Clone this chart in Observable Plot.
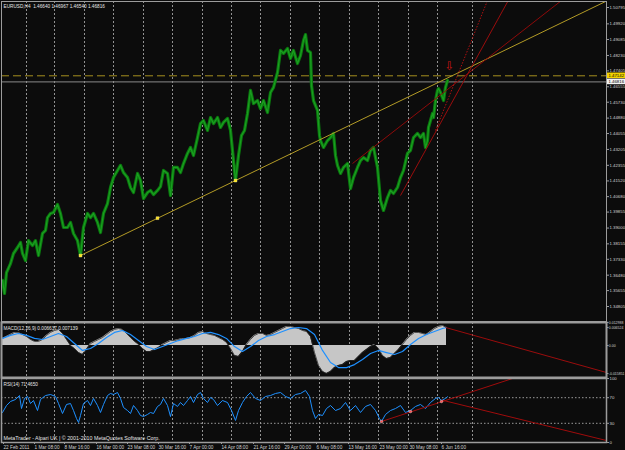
<!DOCTYPE html>
<html><head><meta charset="utf-8">
<script src="https://cdn.jsdelivr.net/npm/d3@7"></script>
<script src="https://cdn.jsdelivr.net/npm/@observablehq/plot@0.6"></script>
<style>
html,body{margin:0;padding:0;background:#0c0c0c;}
#wrap{position:relative;width:625px;height:450px;overflow:hidden;background:#0c0c0c;}
#wrap svg{position:absolute;left:0;overflow:visible;}
</style></head><body><div id="wrap"></div>
<script>
// ---------- DATA ----------
const headerText = "EURUSD,H4  1.46640 1.46967 1.46540 1.46816";
const macdText = "MACD(12,26,9) 0.006637 0.007139";
const rsiText = "RSI(14) 71.4650";
const footerText = "MetaTrader - Alpari UK | © 2001-2010 MetaQuotes Software Corp.";

// H4 bar index (0 = 22 Feb 2011 00:00) and close price
const priceBar = [0,2,4,8,11,15,18,20,23,26,
 30,33,36,40,43,45,48,51,55,58,
 61,65,68,71,75,78,81,85,88,91,
 95,98,101,105,108,111,115,118,121,125,
 128,131,135,138,141,145,148,151,155,158,
 161,165,168,171,175,178,181,185,188,191,
 195,198,201,205,208,211,215,218,221,225,
 228,231,233,236,239,242,245,248,251,255,
 258,261,265,268,271,275,278,281,285,288,
 291,295,298,301,303,305,308,309,311,315,
 317,318,321,325,328,331,333,335,338,341,
 345,348,351,355,358,361,365,368,371,375,
 378,381,385,388,391,395,398,401,405,408,
 411,415,418,421,423,425,426,428,430,431,
 433,435,436,438,440,441,443,445];
const priceClose = [1.3620,1.3550,1.3662,1.3710,1.3764,1.3796,1.3823,1.3764,1.3726,1.3833,
 1.3807,1.3833,1.3753,1.3871,1.3887,1.3956,1.3978,1.3983,1.4026,1.3978,
 1.3903,1.3903,1.3930,1.3871,1.3833,1.3753,1.3903,1.3978,1.3956,1.3978,
 1.3930,1.3876,1.3978,1.4031,1.4117,1.4170,1.4208,1.4235,1.4197,1.4170,
 1.4117,1.4090,1.4192,1.4154,1.4058,1.4090,1.4101,1.4079,1.4101,1.4122,
 1.4208,1.4192,1.4074,1.4224,1.4224,1.4197,1.4245,1.4299,1.4331,1.4288,
 1.4384,1.4459,1.4475,1.4422,1.4491,1.4459,1.4491,1.4438,1.4465,1.4486,
 1.4422,1.4261,1.4154,1.4288,1.4395,1.4422,1.4513,1.4636,1.4566,1.4582,
 1.4539,1.4582,1.4518,1.4625,1.4652,1.4732,1.4850,1.4834,1.4860,1.4807,
 1.4850,1.4780,1.4823,1.4903,1.4935,1.4850,1.4839,1.4662,1.4582,1.4529,
 1.4395,1.4368,1.4331,1.4368,1.4384,1.4406,1.4288,1.4235,1.4192,1.4224,
 1.4245,1.4111,1.4170,1.4224,1.4261,1.4277,1.4261,1.4315,1.4331,1.4224,
 1.4047,1.3994,1.4063,1.4101,1.4085,1.4117,1.4170,1.4208,1.4299,1.4315,
 1.4384,1.4406,1.4384,1.4406,1.4331,1.4368,1.4438,1.4475,1.4513,1.4491,
 1.4582,1.4636,1.4646,1.4625,1.4598,1.4582,1.4652,1.4689];

const priceTicks = [1.50795,1.49920,1.49085,1.48230,1.47405,1.46555,1.45730,1.44880,1.44055,1.43205,
 1.42355,1.41520,1.40680,1.39855,1.39000,1.38155,1.37330,1.36480,1.35655,1.34805];
const priceDomain = [1.34805, 1.50795];
const levelPrice = 1.47142;   // dashed yellow level
const bidPrice = 1.46816;     // bid line
const tagPrices = [1.47142, 1.46816];
const tagLabels = ["1.47142", "1.46816"];
const tagColors = ["#f2d200", "#f2f2f2"];

// trend lines: start bar/price, end bar/price
const trendName = ["support", "r1", "r2", "r3"];
const trendBar1 = [78, 350, 398, 433];
const trendP1 = [1.3753, 1.4245, 1.4074, 1.4422];
const trendBar2 = [604, 560, 506, 485];
const trendP2 = [1.5114, 1.5121, 1.5119, 1.5117];
const trendColor = ["#b39b26", "#8e0a0a", "#9a0c0c", "#b01010"];
const trendDash = ["none", "none", "none", "1.5,1.5"];
const anchorBar = [78, 155, 233];
const anchorPrice = [1.3753, 1.3953, 1.4154];
const arrowBar = [447];
const arrowPrice = [1.4764];

// vertical grid (bar index) and time labels
const gridBars = [24,52,82,111,141,170,200,229,258,288,317,347,376,406,435,470];
const timeBars = [0,31,61,93,124,155,186,218,250,281,313,345,376,406,438];
const timeLabels = ["22 Feb 2011","1 Mar 08:00","8 Mar 16:00","16 Mar 00:00","23 Mar 08:00","30 Mar 16:00",
 "7 Apr 00:00","14 Apr 08:00","21 Apr 16:00","29 Apr 00:00","6 May 08:00","13 May 16:00",
 "23 May 00:00","30 May 08:00","6 Jun 16:00"];

// MACD histogram
const histBar = [0,4,8,12,16,20,24,28,32,36,40,44,48,52,56,60,64,68,72,76,
 80,84,88,92,96,100,104,108,112,116,120,124,128,132,136,140,144,148,152,156,
 160,164,168,172,176,180,184,188,192,196,200,204,208,212,216,220,224,228,232,236,
 240,244,248,252,256,260,264,268,272,276,280,284,288,292,296,300,304,308,312,316,
 320,324,328,332,336,340,344,348,352,356,360,364,368,372,376,380,384,388,392,396,
 400,404,408,412,416,420,424,428,432,436,440,444];
const histValue = [0.0040,0.0051,0.0062,0.0074,0.0074,0.0062,0.0051,0.0034,0.0023,0.0023,
 0.0034,0.0057,0.0074,0.0085,0.0091,0.0068,0.0034,0.0000,-0.0017,-0.0040,
 -0.0051,-0.0023,0.0011,0.0023,0.0034,0.0045,0.0062,0.0079,0.0091,0.0096,
 0.0091,0.0068,0.0045,0.0023,0.0006,-0.0017,-0.0034,-0.0034,-0.0023,-0.0011,
 0.0006,0.0017,0.0028,0.0028,0.0034,0.0040,0.0040,0.0045,0.0057,0.0074,
 0.0079,0.0068,0.0062,0.0057,0.0045,0.0034,0.0017,-0.0017,-0.0057,-0.0062,
 -0.0034,0.0006,0.0034,0.0057,0.0068,0.0068,0.0057,0.0062,0.0074,0.0085,
 0.0096,0.0108,0.0108,0.0102,0.0096,0.0085,0.0079,0.0051,-0.0040,-0.0113,
 -0.0147,-0.0158,-0.0147,-0.0125,-0.0113,-0.0108,-0.0091,-0.0085,-0.0085,-0.0062,
 -0.0040,-0.0023,-0.0006,0.0006,-0.0017,-0.0057,-0.0074,-0.0068,-0.0045,-0.0023,
 0.0006,0.0034,0.0057,0.0074,0.0074,0.0068,0.0062,0.0079,0.0096,0.0108,
 0.0113,0.0102];
// MACD signal
const sigBar = [0,8,16,24,32,40,48,56,64,72,80,88,96,104,112,120,128,136,144,152,
 160,168,176,184,192,200,208,216,224,232,240,248,256,264,272,280,288,296,304,312,
 320,328,336,344,352,360,368,376,384,392,400,408,416,424,432,440,444];
const sigValue = [0.0040,0.0057,0.0068,0.0057,0.0040,0.0034,0.0051,0.0068,0.0051,0.0011,
 -0.0028,-0.0017,0.0011,0.0045,0.0074,0.0085,0.0062,0.0028,-0.0006,-0.0023,
 -0.0006,0.0011,0.0028,0.0040,0.0051,0.0068,0.0074,0.0062,0.0040,-0.0006,
 -0.0034,-0.0006,0.0028,0.0051,0.0062,0.0079,0.0096,0.0102,0.0096,0.0062,
 -0.0028,-0.0096,-0.0125,-0.0125,-0.0108,-0.0079,-0.0045,-0.0028,-0.0040,-0.0051,
 -0.0034,0.0006,0.0040,0.0062,0.0079,0.0096,0.0102];
const macdDomain = [-0.01585, 0.01302];
const macdTicks = [0.01302, 0.01020, 0, -0.01585];
const macdTickLabels = ["0.012988", "0.006524", "0.00", "-0.015851"];
const macdLineBar = [443, 604];
const macdLineValue = [0.0102, -0.0153];

// RSI
const rsiBar = [0,4,8,13,17,19,22,25,28,31,35,38,43,48,53,56,60,64,68,71,74,76,78,81,85,88,91,95,98,101,
 105,108,111,115,118,121,125,128,131,135,138,141,145,148,151,155,158,161,165,168,171,175,178,181,185,188,191,195,198,201,
 205,208,211,215,220,225,229,233,236,240,244,248,253,258,263,268,273,278,283,288,293,298,303,307,310,313,316,320,324,328,
 333,338,343,348,353,358,363,368,373,377,379,383,388,393,398,403,408,413,418,423,428,433,436,439,443,445];
const rsiValue = [46.9,57.8,64.1,67.2,73.4,53.1,68.8,71.9,60.9,65.6,50.0,67.2,73.4,75.0,71.9,60.9,45.3,59.4,60.9,50.0,37.5,31.3,42.2,60.9,65.6,57.8,68.8,57.8,46.9,59.4,
 73.4,76.6,75.0,78.1,68.8,54.7,50.0,45.3,57.8,50.0,42.2,40.6,43.8,46.9,45.3,56.3,59.4,68.8,57.8,40.6,60.9,56.3,62.5,57.8,65.6,71.9,62.5,75.0,78.1,68.8,
 62.5,70.3,67.2,57.8,65.6,62.5,50.0,34.4,50.0,62.5,71.9,78.1,68.8,65.6,71.9,73.4,76.6,78.1,71.9,68.8,75.0,76.6,81.3,71.9,50.0,37.5,43.8,42.2,53.1,57.8,
 50.0,53.1,62.5,50.0,57.8,46.9,56.3,59.4,50.0,37.5,32.8,43.8,50.0,53.1,57.8,46.9,50.0,56.3,59.4,53.1,62.5,68.8,70.3,65.6,68.8,71.5];
const rsiLevels = [70, 30];
const rsiTicks = [100, 70, 30, 0];
const rsiPointBar = [379, 408, 439];
const rsiPointValue = [32.8, 48.4, 64.1];
const rsiLineBar1 = [379, 439];
const rsiLineV1 = [32.8, 66.4];
const rsiLineBar2 = [510, 604];
const rsiLineV2 = [100, 3.1];

// ---------- BUILD ----------
const xDomain = [-1, 604];
const FONT = "Liberation Sans, Arial, sans-serif";
const FS = 4.7;      // general small MT4 text
const FSA = 4.3;     // right-hand axis labels
const FSM = 3.5;     // long MACD axis labels
const style = {background: "transparent", color: "#d6d6d6", fontFamily: FONT, fontSize: FS + "px", overflow: "visible"};
const gridColor = "#b4b4b4";
const frameColor = "#9c9c9c";

const priceData = priceBar.map((b, i) => ({bar: b, close: priceClose[i]})).filter(d => d.close != null);
const trendData = trendName.map((n, i) => ({n, x1: trendBar1[i], y1: trendP1[i], x2: trendBar2[i], y2: trendP2[i], c: trendColor[i], dash: trendDash[i]}));
const anchors = anchorBar.map((b, i) => ({bar: b, p: anchorPrice[i]}));
const tags = tagPrices.map((p, i) => ({p, label: tagLabels[i], c: tagColors[i]}));

const main = Plot.plot({
  width: 625, height: 321, marginLeft: 1, marginRight: 19, marginTop: 1, marginBottom: 0,
  x: {domain: xDomain, axis: null},
  y: {domain: priceDomain, range: [306, 7]},
  style,
  marks: [
    Plot.ruleX(gridBars, {stroke: gridColor, strokeDasharray: "2,2", strokeOpacity: 0.8}),
    Plot.ruleY([bidPrice], {stroke: "#8a8a8a", strokeWidth: 1}),
    Plot.ruleY([levelPrice], {stroke: "#a68f1e", strokeDasharray: "8,4", strokeWidth: 1}),
    Plot.line(priceData, {x: "bar", y: "close", stroke: "#0a7a0e", strokeWidth: 3.2}),
    Plot.line(priceData, {x: "bar", y: "close", stroke: "#1b9e21", strokeWidth: 1.2}),
    ...trendData.map(t => Plot.link([t], {x1: "x1", y1: "y1", x2: "x2", y2: "y2", stroke: t.c, strokeWidth: 1, strokeDasharray: t.dash, clip: true})),
    Plot.dot(anchors, {x: "bar", y: "p", symbol: "square", r: 1.6, fill: "#ffe21a", stroke: "#fff6a0", strokeWidth: 0.4}),
    Plot.text(arrowBar.map((b, i) => ({bar: b, p: arrowPrice[i]})), {x: "bar", y: "p", text: () => "⇩", fill: "#c21414", fontSize: 12, fontFamily: "DejaVu Sans"}),
    Plot.axisY(priceTicks, {anchor: "right", tickSize: 2, tickPadding: 1, tickFormat: d => d.toFixed(5), fontSize: FSA, stroke: "#9c9c9c", fill: "#d2d2d2"}),
    Plot.rect(tags, {x1: () => xDomain[1], x2: () => xDomain[1] + 19, y1: "p", y2: "p", insetTop: -2.8, insetBottom: -2.8, fill: "c"}),
    Plot.text(tags, {x: () => xDomain[1], y: "p", text: "label", dx: 2, textAnchor: "start", fill: "#000", fontSize: FSA}),
    Plot.frame({stroke: frameColor, strokeWidth: 1}),
    Plot.text([headerText], {frameAnchor: "top-left", dx: 2, dy: 3, textAnchor: "start", fill: "#e6e6e6", fontSize: FS})
  ]
});

const hist = histBar.map((b, i) => ({bar: b, v: histValue[i]})).filter(d => d.v != null);
const sig = sigBar.map((b, i) => ({bar: b, v: sigValue[i]}));
const macdLine = [{x1: macdLineBar[0], y1: macdLineValue[0], x2: macdLineBar[1], y2: macdLineValue[1]}];
const macdPlot = Plot.plot({
  width: 625, height: 56, marginLeft: 1, marginRight: 19, marginTop: 1, marginBottom: 0,
  x: {domain: xDomain, axis: null},
  y: {domain: macdDomain, range: [52, 1]},
  style,
  marks: [
    Plot.ruleX(gridBars, {stroke: gridColor, strokeDasharray: "2,2", strokeOpacity: 0.8}),
    Plot.areaY(hist, {x: "bar", y: "v", fill: "#c6c6c6"}),
    Plot.line(hist, {x: "bar", y: "v", stroke: "#2a2a2a", strokeWidth: 0.8}),
    Plot.line(sig, {x: "bar", y: "v", stroke: "#1e90ff", strokeWidth: 1.2}),
    Plot.link(macdLine, {x1: "x1", y1: "y1", x2: "x2", y2: "y2", stroke: "#9a0c0c", strokeWidth: 1, clip: true}),
    Plot.axisY(macdTicks, {anchor: "right", tickSize: 1.5, tickPadding: 0.8, tickFormat: d => macdTickLabels[macdTicks.indexOf(d)], fontSize: FSM, stroke: "#9c9c9c", fill: "#d2d2d2"}),
    Plot.frame({stroke: frameColor, strokeWidth: 2}),
    Plot.text([macdText], {frameAnchor: "top-left", dx: 2, dy: 4, textAnchor: "start", fill: "#e6e6e6", fontSize: FS})
  ]
});

const rsi = rsiBar.map((b, i) => ({bar: b, v: rsiValue[i]})).filter(d => d.v != null);
const rsiPts = rsiPointBar.map((b, i) => ({bar: b, v: rsiPointValue[i]}));
const rsiLines = [0, 1].map(i => ({x1: rsiLineBar1[i], y1: rsiLineV1[i], x2: rsiLineBar2[i], y2: rsiLineV2[i]}));
const rsiPlot = Plot.plot({
  width: 625, height: 73, marginLeft: 1, marginRight: 19, marginTop: 1, marginBottom: 8,
  x: {domain: xDomain},
  y: {domain: [0, 100], range: [65, 1]},
  style,
  marks: [
    Plot.ruleX(gridBars, {stroke: gridColor, strokeDasharray: "2,2", strokeOpacity: 0.8}),
    Plot.ruleY(rsiLevels, {stroke: "#9a9a9a", strokeDasharray: "1.5,2"}),
    Plot.line(rsi, {x: "bar", y: "v", stroke: "#1e90ff", strokeWidth: 1}),
    Plot.link(rsiLines, {x1: "x1", y1: "y1", x2: "x2", y2: "y2", stroke: "#a00c0c", strokeWidth: 1, clip: true}),
    Plot.dot(rsiPts, {x: "bar", y: "v", r: 1.3, fill: "#ff5050", stroke: "#ffffff", strokeWidth: 0.4}),
    Plot.axisY(rsiTicks, {anchor: "right", tickSize: 2, tickPadding: 1, tickFormat: d => String(d), fontSize: FSA, stroke: "#9c9c9c", fill: "#d2d2d2"}),
    Plot.axisX(timeBars, {anchor: "bottom", tickSize: 2, tickPadding: 1, textAnchor: "start", dx: 1, tickFormat: d => timeLabels[timeBars.indexOf(d)], fontSize: FS, stroke: "#9c9c9c", fill: "#d2d2d2", label: null}),
    Plot.frame({stroke: frameColor, strokeWidth: 1.5}),
    Plot.text([rsiText], {frameAnchor: "top-left", dx: 2, dy: 4, textAnchor: "start", fill: "#e6e6e6", fontSize: FS}),
    Plot.text([footerText], {frameAnchor: "bottom-left", dx: 2, dy: -3, textAnchor: "start", fill: "#e6e6e6", fontSize: 5.3})
  ]
});

const wrap = document.getElementById("wrap");
[[main, 0], [macdPlot, 321], [rsiPlot, 377]].forEach(([svg, top]) => {
  svg.style.top = top + "px";
  wrap.appendChild(svg);
});
</script>
</body></html>
